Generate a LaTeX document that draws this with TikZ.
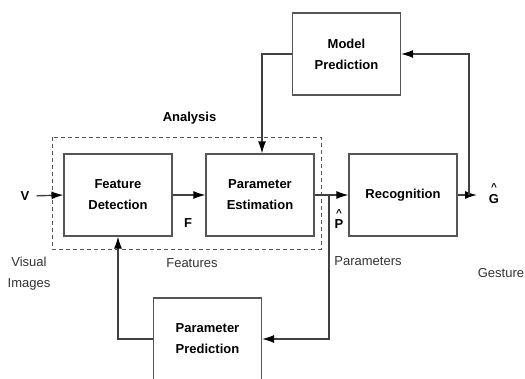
\documentclass[tikz,border=0pt]{standalone}
\usepackage{fontspec}
\setmainfont{Liberation Sans}
\usetikzlibrary{arrows.meta}
\definecolor{boxgray}{HTML}{555555}
\definecolor{linegray}{HTML}{404040}
\definecolor{capgray}{HTML}{333333}
\begin{document}
\begin{tikzpicture}[x=1pt,y=-1pt,
  box/.style={draw=boxgray,line width=1.1pt,minimum width=108pt,minimum height=82pt,align=center,
    font=\fontsize{13}{21}\selectfont\bfseries,inner sep=0pt},
  conn/.style={draw=linegray,line width=1.4pt},
  arr/.style={conn,-{Latex[length=12pt,width=8pt,color=black]}},
  lbl/.style={font=\fontsize{13}{16}\selectfont\bfseries,inner sep=1pt},
  captext/.style={font=\fontsize{13}{21}\selectfont,text=capgray,align=center,inner sep=1pt}]
\clip (0,0) rectangle (525,379);
\fill[white] (0,0) rectangle (525,379);
% analysis frame
\draw[boxgray,line width=0.9pt,dash pattern=on 4pt off 3pt] (52,137) rectangle (321,249);
% boxes
\node[box] (mp) at (346.5,54) {Model\\Prediction};
\node[box] (fd) at (118,195) {Feature\\Detection};
\node[box] (pe) at (260,195) {Parameter\\Estimation};
\node[box] (re) at (403,195) {Recognition};
\node[box] (pp) at (207.5,339) {Parameter\\Prediction};
% labels
\node[lbl] (v) at (25,196) {V};
\node[lbl] (f) at (188,223) {F};
\node[lbl] (an) at (189.5,118) {Analysis};
\node[lbl] (phc) at (339,213) {\fontsize{10}{10}\selectfont\textasciicircum};
\node[lbl] (ph) at (339,224) {P};
\node[lbl] (ghc) at (494,187) {\fontsize{10}{10}\selectfont\textasciicircum};
\node[lbl] (gh) at (494,199) {G};
\node[captext] (vi) at (29,274) {Visual\\Images};
\node[captext] (feat) at (192,263) {Features};
\node[captext] (par) at (368,261) {Parameters};
\node[captext] (ges) at (501,273) {Gesture};
% connector points
\coordinate (gin) at (477,195);
\coordinate (gj) at (469,195);
\coordinate (pj) at (329,195);
% connectors
\draw[arr,shorten <=6pt] (v.east) -- (fd.west);
\draw[arr] (fd.east) -- (pe.west);
\draw[arr] (pe.east) -- (re.west);
\draw[arr] (re.east) -- (gin);
\draw[arr] (gj) |- (mp.east);
\draw[arr] (mp.west) -| ([xshift=2pt]pe.north);
\draw[arr] (pj) |- (pp.east);
\draw[arr] (pp.west) -| (fd.south);
\end{tikzpicture}
\end{document}
